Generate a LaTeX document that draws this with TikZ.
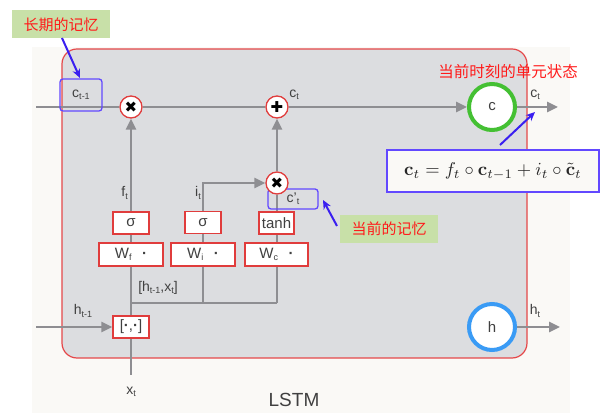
\documentclass[tikz,border=0pt]{standalone}
\usepackage{graphicx}
\usepackage[no-math]{fontspec}
\setmainfont{Liberation Sans}
\newfontfamily\cjk{Noto Sans CJK SC}
\newfontfamily\djv{DejaVu Sans}
\usetikzlibrary{arrows.meta}
\pgfdeclarelayer{bg}
\pgfdeclarelayer{lines}
\pgfsetlayers{bg,lines,main}
\definecolor{lgray}{HTML}{8E8E92}
\definecolor{boxfill}{HTML}{DCDDE0}
\definecolor{boxred}{HTML}{E5484A}
\definecolor{gatered}{HTML}{E03C3C}
\definecolor{vblue}{HTML}{3A1FF0}
\definecolor{bboxc}{HTML}{6248FF}
\definecolor{lgreen}{HTML}{C8E0A8}
\definecolor{cgreen}{HTML}{44C033}
\definecolor{hblue}{HTML}{3A9BF5}
\definecolor{txt}{HTML}{404040}
\definecolor{offwhite}{HTML}{FAF9F6}
\definecolor{labred}{HTML}{FF1A1A}
\newcommand\lsub[2]{#1\raisebox{-0.3ex}{\fontsize{9}{9}\selectfont #2}}
\tikzset{
  flow/.style={draw=lgray, line width=2.6pt},
  arr/.style={flow, -{Triangle[length=11pt,width=10pt]}},
  op/.style={circle, draw=gatered, fill=white, line width=1.3pt, minimum size=22pt, inner sep=0pt, text=black, font=\djv\fontsize{15}{15}\selectfont},
  gate/.style={rectangle, draw=gatered, fill=white, line width=1.2pt, inner sep=0pt, text=txt, font=\fontsize{15}{15}\selectfont},
  lab/.style={inner sep=0pt, text=txt, font=\fontsize{14}{14}\selectfont},
  bluebox/.style={rectangle, rounded corners=3pt, draw=bboxc, line width=1.3pt, inner sep=0pt, text=txt, font=\fontsize{14}{14}\selectfont},
  barrow/.style={draw=vblue, line width=2pt, -{Stealth[length=9pt,width=8pt]}},
  glabel/.style={rectangle, fill=lgreen, inner sep=0pt, minimum width=98pt, minimum height=28pt, text=labred, font=\cjk\fontsize{15}{15}\selectfont},
  state/.style={circle, draw=#1, fill=white, line width=4pt, minimum size=46pt, inner sep=0pt, text=txt, font=\fontsize{15}{15}\selectfont},
}
\begin{document}
\begin{tikzpicture}[x=1pt,y=-1pt]
\useasboundingbox (0,0) rectangle (611,419);
\begin{pgfonlayer}{bg}
  \fill[offwhite] (32,47) rectangle (570,413);
  \draw[boxred, fill=boxfill, line width=1.2pt, rounded corners=15pt] (62,49) rectangle (527,358);
\end{pgfonlayer}
% coordinates
\coordinate (cin) at (36,107);
\coordinate (hin) at (36,327);
\coordinate (xin) at (131,375);
\coordinate (jf) at (131,303);
\coordinate (ji) at (203,303);
\coordinate (jc) at (277,303);
\coordinate (cout) at (558,107);
\coordinate (hout) at (560,327);
% boxes
\node[bluebox, minimum width=42pt, minimum height=32pt] (cprev) at (81,95) {\lsub{c}{t-1}};
\node[bluebox, minimum width=50pt, minimum height=20pt] (cbox) at (293,199) {\lsub{c'}{t}};
\node[op] (mul1) at (131,107) {✖};
\node[op] (add) at (277,107) {✚};
\node[op] (mul2) at (277,183) {✖};
\node[gate, minimum width=36pt, minimum height=22pt] (sf) at (131,223) {σ};
\node[gate, minimum width=36pt, minimum height=22pt] (si) at (203,222.5) {σ};
\node[gate, minimum width=35pt, minimum height=22pt] (st) at (276.5,223) {tanh};
\node[gate, minimum width=64pt, minimum height=23pt] (wf) at (131,254.5) {\lsub{W}{f}\hspace{0.7em}\textbf{·}};
\node[gate, minimum width=64pt, minimum height=23pt] (wi) at (203,254.5) {\lsub{W}{i}\hspace{0.7em}\textbf{·}};
\node[gate, minimum width=63pt, minimum height=23pt] (wc) at (276.5,254.5) {\lsub{W}{c}\hspace{0.7em}\textbf{·}};
\node[gate, minimum width=36pt, minimum height=22pt] (cat) at (131,327) {[\textbf{·},\textbf{·}]};
\node[state=cgreen] (cnode) at (492,107) {c};
\node[state=hblue] (hnode) at (492,327) {h};
% labels
\node[lab] (lct) at (294,95) {\lsub{c}{t}};
\node[lab] (lct2) at (535,95) {\lsub{c}{t}};
\node[lab] (lht) at (535,311) {\lsub{h}{t}};
\node[lab] (lhp) at (83,311) {\lsub{h}{t-1}};
\node[lab] (lxt) at (131,392) {\lsub{x}{t}};
\node[lab, anchor=east] (lft) at (128,193) {\lsub{f}{t}};
\node[lab, anchor=east] (lit) at (201,193) {\lsub{i}{t}};
\node[lab] (lhx) at (158,288) {[\lsub{h}{t-1},\lsub{x}{t}]};
\node[inner sep=0pt, text=txt, font=\fontsize{19}{19}\selectfont] (lstm) at (294,400) {LSTM};
% connectors
\begin{pgfonlayer}{lines}
  \draw[flow] (cin) -- (mul1);
  \draw[flow] (mul1) -- (add);
  \draw[arr] (add) -- (cnode);
  \draw[arr] (cnode) -- (cout);
  \draw[arr] (hnode) -- (hout);
  \draw[arr] (hin) -- (cat);
  \draw[flow] (xin) -- (cat);
  \draw[flow] (cat) -- (jf);
  \draw[flow] (jf) -- (jc);
  \draw[arr] (jf) -- (mul1);
  \draw[arr] (ji) |- (mul2);
  \draw[flow] (jc) -- (mul2);
  \draw[arr] (mul2) -- (add);
\end{pgfonlayer}
% annotations
\node[glabel] (lt) at (61,24.5) {长期的记忆};
\node[glabel] (cur) at (389,229) {当前的记忆};
\node[inner sep=0pt, text=labred, font=\cjk\fontsize{15.5}{15.5}\selectfont] (now) at (508,72) {当前时刻的单元状态};
\node[rectangle, draw=bboxc, fill=offwhite, line width=1.3pt, minimum width=212pt, minimum height=42pt, inner sep=0pt, text=black!85] (eq) at (493,171) {\scalebox{1.85}{$\mathbf{c}_t = f_t \circ \mathbf{c}_{t-1} + i_t \circ \tilde{\mathbf{c}}_t$}};
\coordinate (a1s) at (62,38);
\coordinate (a1e) at (80,78);
\coordinate (a2s) at (500,145);
\coordinate (a2e) at (535,112);
\coordinate (a3s) at (337,226);
\coordinate (a3e) at (323,200);
\draw[barrow] (a1s) -- (a1e);
\draw[barrow] (a2s) -- (a2e);
\draw[barrow] (a3s) -- (a3e);
\end{tikzpicture}
\end{document}
